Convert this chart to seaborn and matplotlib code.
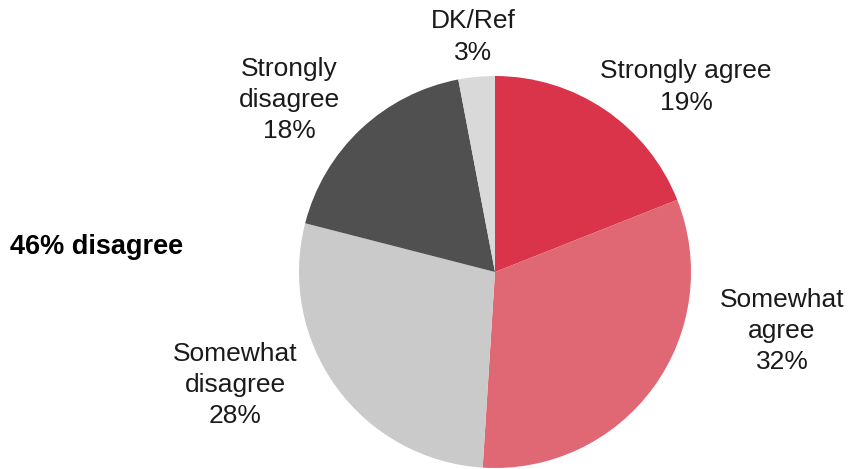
import matplotlib
matplotlib.use("Agg")
import matplotlib.pyplot as plt
import seaborn as sns

labels = ["Strongly agree", "Somewhat\nagree", "Somewhat\ndisagree", "Strongly\ndisagree", "DK/Ref"]
values = [19, 32, 28, 18, 3]
colors = ["#d9344a", "#e06774", "#cacaca", "#505050", "#d9d9d9"]
# label anchor pixels (x, y of text centre) in the 851x469 canvas
label_pos = [(686, 87), (782, 331), (235, 385), (289, 100), (473, 37)]
summary = "46% disagree"

sns.set_theme(style="white")
plt.rcParams["font.family"] = ["Liberation Sans", "DejaVu Sans"]

W, H = 851, 469
fig = plt.figure(figsize=(W / 100, H / 100), dpi=100)
cx, cy, r = 495, 272, 196
ax = fig.add_axes([(cx - r) / W, (H - cy - r) / H, 2 * r / W, 2 * r / H])
ax.pie(values, colors=colors, startangle=90, counterclock=False, radius=1,
       wedgeprops=dict(linewidth=0))
ax.set_xlim(-1, 1)
ax.set_ylim(-1, 1)
ax.set_aspect("equal")
ax.axis("off")

for lab, v, (px, py) in zip(labels, values, label_pos):
    fig.text(px / W, 1 - py / H, f"{lab}\n{v}%", ha="center", va="center",
             fontsize=19, color="#1a1a1a", linespacing=1.37)

fig.text(10 / W, 1 - 247 / H, summary, ha="left", va="center", fontsize=19.5,
         fontweight="bold", color="black")

fig.savefig("out.png", dpi=100)
